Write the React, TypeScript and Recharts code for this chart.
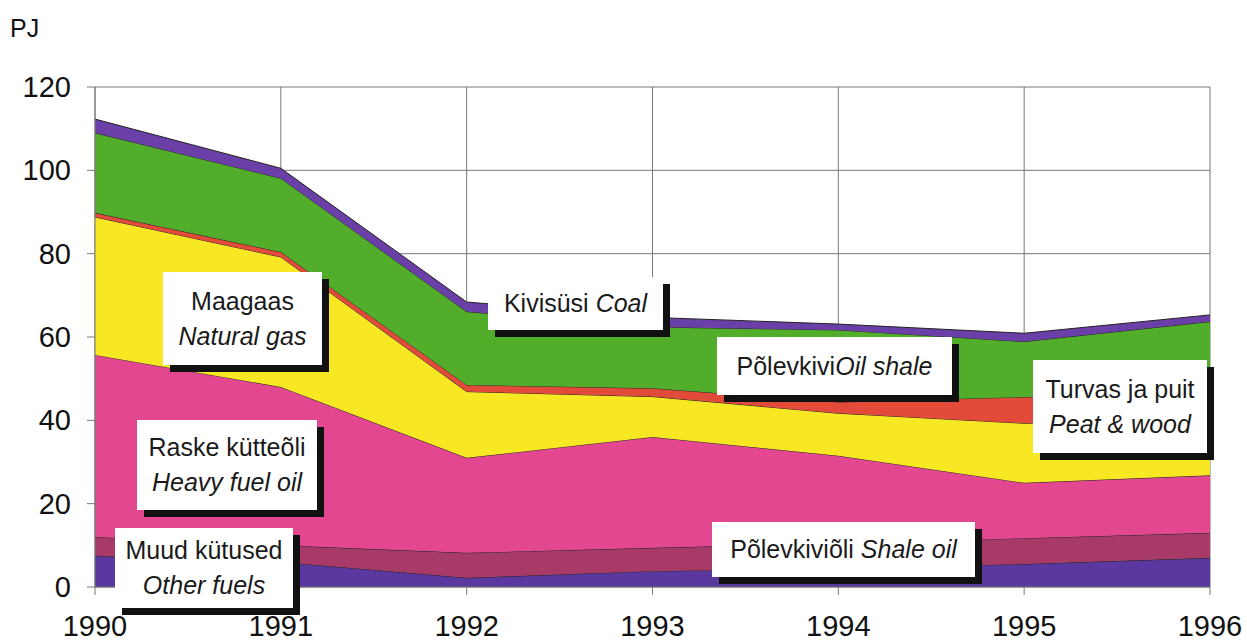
import { AreaChart, Area, XAxis, YAxis, CartesianGrid } from 'recharts';

const years = ['1990', '1991', '1992', '1993', '1994', '1995', '1996'];
const otherFuels = [7.5, 6, 2.2, 3.8, 4.5, 5.5, 7];
const shaleOil = [4.5, 4, 6, 5.6, 6, 6.2, 6];
const heavyFuelOil = [43.7, 38, 22.8, 26.6, 21, 13.3, 13.8];
const naturalGas = [33.1, 31.2, 15.9, 9.7, 10.2, 14.3, 13.2];
const peatWood = [1, 1.2, 1.6, 2, 2.7, 6.3, 6];
const oilShale = [19.2, 17.7, 17.6, 14.7, 17.3, 13.3, 17.7];
const coal = [3.3, 2.4, 2.3, 2.3, 1.4, 2, 1.6];
const yTicks = [0, 20, 40, 60, 80, 100, 120];

const data = years.map((year, i) => ({
  year,
  otherFuels: otherFuels[i],
  shaleOil: shaleOil[i],
  heavyFuelOil: heavyFuelOil[i],
  naturalGas: naturalGas[i],
  peatWood: peatWood[i],
  oilShale: oilShale[i],
  coal: coal[i],
}));

const series = [
  { key: 'otherFuels', color: '#5a38a0' },
  { key: 'shaleOil', color: '#a83a68' },
  { key: 'heavyFuelOil', color: '#e2478f' },
  { key: 'naturalGas', color: '#f8e824' },
  { key: 'peatWood', color: '#e24a3a' },
  { key: 'oilShale', color: '#52ad2a' },
  { key: 'coal', color: '#6b3fa8' },
];

const font = '"Liberation Sans", Arial, sans-serif';

const XTick = ({ x, y, payload }: any) => (
  <text x={x} y={y + 39} textAnchor="middle" fontSize={29} fill="#111" fontFamily={font}>
    {payload.value}
  </text>
);

const YTick = ({ x, y, payload }: any) => (
  <text x={x - 14} y={y + 10} textAnchor="end" fontSize={29} fill="#111" fontFamily={font}>
    {payload.value}
  </text>
);

const boxStyle = (left: number, top: number, width: number, height: number): React.CSSProperties => ({
  position: 'absolute',
  left,
  top,
  width,
  height,
  background: '#fff',
  boxShadow: '7px 7px 0 #111',
  display: 'flex',
  flexDirection: 'column',
  justifyContent: 'center',
  alignItems: 'center',
  fontSize: 25,
  lineHeight: '35px',
  color: '#1a1a1a',
  fontFamily: font,
  whiteSpace: 'nowrap',
});

export default function App() {
  return (
    <div style={{ position: 'absolute', left: 0, top: 0, width: 1247, height: 643, background: '#fff', fontFamily: font }}>
      <AreaChart
        width={1247}
        height={643}
        data={data}
        margin={{ top: 87, right: 37, bottom: 6, left: 35 }}
      >
        <CartesianGrid stroke="#777" strokeWidth={1} />
        <XAxis
          dataKey="year"
          height={50}
          tick={<XTick />}
          tickSize={8}
          stroke="#777"
          interval={0}
        />
        <YAxis
          width={60}
          domain={[0, 120]}
          ticks={yTicks}
          tick={<YTick />}
          tickSize={8}
          stroke="#777"
          interval={0}
        />
        {series.map((s) => (
          <Area
            key={s.key}
            type="linear"
            dataKey={s.key}
            stackId="1"
            fill={s.color}
            fillOpacity={1}
            stroke="#222"
            strokeWidth={1}
            isAnimationActive={false}
          />
        ))}
      </AreaChart>

      <div style={{ position: 'absolute', left: 10, top: 14, fontSize: 25, color: '#111' }}>PJ</div>

      <div style={boxStyle(163, 272, 159, 93)}>
        <span>Maagaas</span>
        <span style={{ fontStyle: 'italic' }}>Natural gas</span>
      </div>
      <div style={boxStyle(488, 277, 175, 53)}>
        <span>
          Kivisüsi <i>Coal</i>
        </span>
      </div>
      <div style={boxStyle(717, 337, 235, 58)}>
        <span>
          Põlevkivi<i>Oil shale</i>
        </span>
      </div>
      <div style={boxStyle(1033, 360, 174, 93)}>
        <span>Turvas ja puit</span>
        <span style={{ fontStyle: 'italic' }}>Peat &amp; wood</span>
      </div>
      <div style={boxStyle(137, 420, 180, 90)}>
        <span>Raske kütteõli</span>
        <span style={{ fontStyle: 'italic' }}>Heavy fuel oil</span>
      </div>
      <div style={boxStyle(115, 528, 178, 80)}>
        <span>Muud kütused</span>
        <span style={{ fontStyle: 'italic' }}>Other fuels</span>
      </div>
      <div style={boxStyle(712, 522, 263, 55)}>
        <span>
          Põlevkiviõli <i>Shale oil</i>
        </span>
      </div>
    </div>
  );
}
